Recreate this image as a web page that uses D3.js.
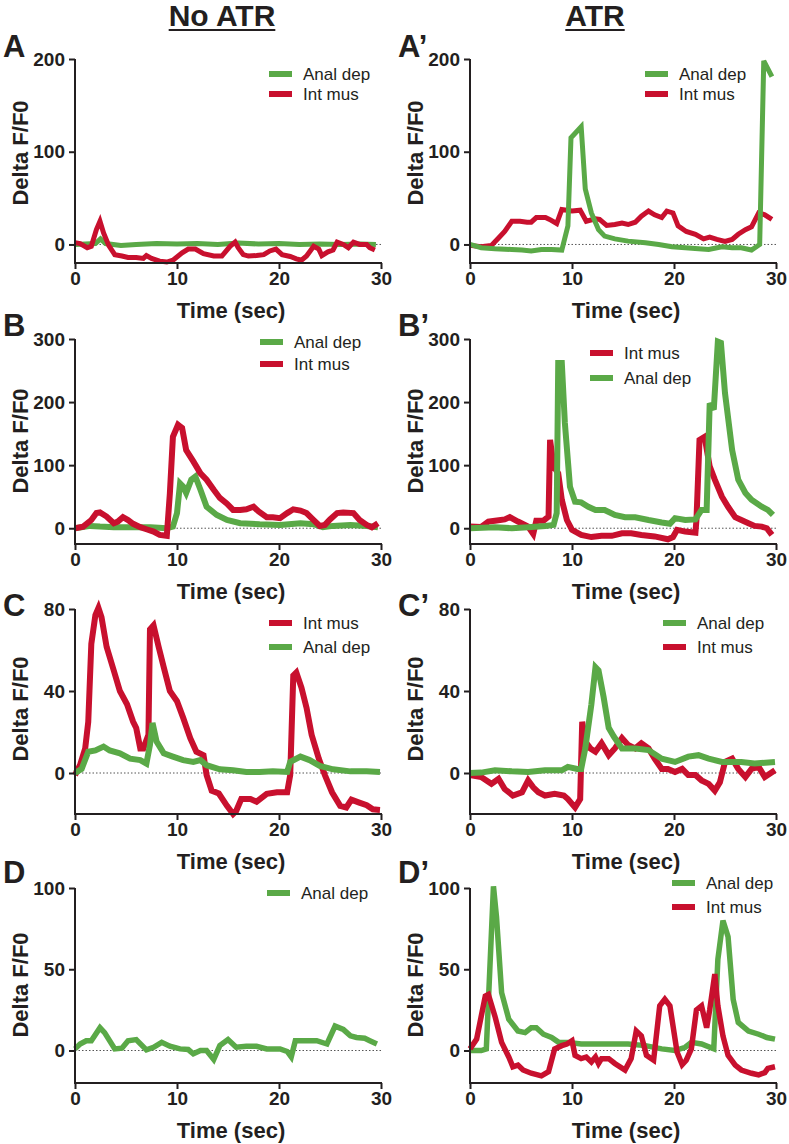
<!DOCTYPE html>
<html>
<head>
<meta charset="utf-8">
<script src="https://cdn.jsdelivr.net/npm/d3@7"></script>
<style>
  html, body { margin: 0; padding: 0; background: #fff; }
  svg { display: block; }
  text { font-family: "Liberation Sans", Arial, Helvetica, sans-serif; fill: #231f20; }
</style>
</head>
<body>
<svg id="chart" width="789" height="1144"></svg>
<script>
// ---------- data (time in sec, Delta F/F0) ----------
const xTicks = [0, 10, 20, 30];

const A_anal = [[0,0],[1,0.5],[2,1],[2.5,6],[3,1],[4.5,-1],[6,0],[8,1],[10,0.5],[12,1],[14,0],[16,1.5],[18,0.5],[20,1],[22,0],[24,0.5],[26,0],[28,0.5],[29.5,0]];
const A_int = [[0,2],[0.5,1],[1.2,-3.5],[1.6,-2],[2.1,16],[2.45,25],[2.8,12.5],[3.3,-1],[3.9,-11],[4.6,-12.5],[5.2,-14],[6,-14],[6.7,-15],[7,-12],[7.5,-15],[8.3,-18],[9,-19],[9.6,-17],[10.5,-9],[11.1,-5],[11.8,-5],[12.6,-10],[13.6,-12.5],[14.4,-12.5],[15.2,-2],[15.7,2.5],[16,-3.5],[16.5,-11],[17,-12.5],[17.8,-12],[18.5,-11],[19.1,-7],[19.7,-5],[20.3,-11],[21.1,-13],[21.7,-15.5],[22.2,-17],[22.7,-12.5],[23.4,-2],[23.9,-5],[24.2,-12],[24.8,-8],[25.3,-6],[25.7,2.5],[26.3,0],[26.8,-3.5],[27.3,2.5],[27.9,0],[28.6,0],[28.9,-3.5],[29.4,-6]];

const Ap_anal = [[0,0],[1.1,-3.5],[2.45,-4.7],[4.1,-5.4],[5.1,-6],[6,-7],[7,-5.4],[8,-5.4],[9,-6],[9.6,20],[9.9,115],[10.9,127],[11.3,60],[11.9,34],[12.6,16],[13.2,9],[14.2,6],[15.5,3.6],[17.2,1.8],[18.5,0],[19.8,-2.5],[21.1,-3.6],[22.4,-4.7],[23.4,-5.4],[24.7,-2.5],[25.7,-3.6],[26.6,-3.6],[27.6,-6],[28.4,0],[28.8,198],[29.6,181]];
const Ap_int = [[0,-1],[1.1,-2.5],[2.1,-1],[2.8,7],[3.4,14],[4.1,25],[4.9,25],[5.6,24],[6,24],[6.5,29],[7.4,29],[7.8,27],[8.5,22.6],[9,37.7],[10,36],[10.8,37],[11.4,25],[12.3,27.6],[12.7,27],[13.4,20.5],[14.2,21.5],[14.9,23],[15.5,21.5],[16.2,24],[16.8,30.5],[17.5,36],[18.1,32],[18.8,29],[19.3,36],[19.9,34],[20.4,20],[21.2,14],[22.1,11],[22.9,6],[23.5,8],[24.2,5.4],[25,3.2],[25.7,5.4],[26.3,11],[27,16],[27.6,19],[28.3,34],[28.9,32],[29.6,27]];

const B_anal = [[0,0],[1.5,3.7],[2.45,2.6],[3.8,1.6],[5.7,1.6],[7.4,1.6],[9,0],[9.6,2.6],[10,24],[10.3,71],[10.6,66],[10.9,56],[11.4,77],[11.8,82],[12.3,61],[12.9,34],[13.9,21],[14.9,13],[16.2,8],[18.1,6.3],[20.1,5.3],[22.1,8],[23.4,6.3],[24.3,1.6],[25.3,3.7],[27,5.3],[28.6,3.7],[29.7,1.6]];
const B_int = [[0,0],[0.8,2.6],[1.6,13],[2.1,24],[2.45,25],[3.1,18.5],[3.8,8],[4.2,10.6],[4.7,17.5],[5.2,13],[5.7,7],[6.4,1.6],[7,-1.6],[7.7,-5.3],[8.3,-10.6],[9,-12],[9.3,55],[9.6,145],[10.1,164],[10.5,159],[10.9,124],[11.6,106],[12.3,87],[12.9,77],[13.6,61],[14.2,48],[14.9,39],[15.5,29],[16.2,29],[16.8,30],[17.5,34],[18,26.5],[18.8,17.5],[19.4,17.5],[20.1,16],[20.8,24],[21.4,30],[22.1,28],[22.7,24],[23.4,13],[24,3.7],[24.5,5.3],[25,14],[25.7,24],[26.3,25],[27.3,24],[27.9,13],[28.6,5.3],[29.1,1.6],[29.7,8]];

const Bp_int = [[0,2.6],[1.1,2],[1.8,10.6],[2.45,12],[3.4,14],[3.9,17.5],[4.7,10.6],[5.7,2.6],[6.2,-9],[6.5,12],[7.2,12],[7.7,18.5],[7.85,140],[8.2,98],[8.65,87],[9,45],[9.5,13],[10,-2.6],[10.9,-10.6],[11.9,-14],[12.9,-12],[13.9,-12],[14.9,-8],[15.8,-8],[16.8,-10.6],[18.1,-13],[19.4,-17.5],[19.9,-14],[20.3,-2.6],[21.1,-5.3],[22.1,-7],[22.2,13],[22.5,140],[23,145],[23.5,98],[24,77],[24.7,50],[25.3,34],[26,17.5],[26.6,13],[27.3,8],[27.9,3.7],[28.6,2.6],[29.1,0],[29.6,-10.6]];
const Bp_anal = [[0,0],[2.45,1.6],[4.1,0],[5.7,1.6],[7.4,3.7],[8.2,5.3],[8.5,24],[8.65,262],[9,262],[9.3,167],[9.8,66],[10.3,42],[10.9,41],[11.6,34],[12.3,29],[13.2,29],[14.2,21],[15.2,17.5],[16.2,17.5],[17.5,13],[18.8,9],[19.6,7],[20.1,16],[21.1,13],[22.1,14],[22.7,29],[23.2,29],[23.5,198],[23.9,188],[24.3,296],[24.6,294],[25,214],[25.7,124],[26.3,77],[27,56],[27.6,45],[28.6,34],[29.2,29],[29.7,21]];

const C_int = [[0,-1],[0.5,4],[1,12],[1.3,25],[1.6,63],[2,77],[2.3,80.5],[2.6,76],[3.1,61.5],[3.8,50],[4.4,40],[5.1,33.5],[5.7,25],[6,22],[6.4,12],[6.7,12],[7.2,18.6],[7.35,70],[7.7,72],[8.2,61.5],[8.7,51.6],[9.3,40],[10,35],[10.6,27],[11.3,17],[11.9,10.4],[12.6,8.7],[12.9,-1],[13.4,-8.6],[14.1,-10],[14.9,-16],[15.5,-20],[15.8,-18.5],[16.3,-12.7],[17.2,-12.7],[17.8,-14],[18.8,-10.2],[19.8,-9.4],[20.8,-9.4],[21.1,-1],[21.4,47.5],[21.7,49],[22.2,41.7],[22.7,31.8],[23.2,18.6],[23.9,7],[24.5,-1],[25.2,-9.4],[26,-16],[26.6,-16.8],[27.1,-13],[27.8,-14.3],[28.6,-15.7],[29.2,-17.7],[29.9,-18]];
const C_anal = [[0,0],[0.65,2],[1.3,10.4],[2,11],[2.8,12.9],[3.4,11],[4.4,9.6],[5.4,7],[6.4,6.3],[7,4.6],[7.35,13.7],[7.6,24.4],[8,15.3],[8.7,9.6],[9.6,8],[10.6,6.3],[11.6,5.4],[12.3,6.3],[12.9,3.8],[14.2,1.8],[15.5,1.3],[16.8,0.5],[18.1,0.5],[19.4,0.8],[20.8,0.5],[21.1,5.4],[22.1,8],[23,6.3],[24,3.5],[25.3,1.8],[27,0.8],[28.6,0.8],[29.9,0.5]];

const Cp_anal = [[0,0],[1.1,0.2],[2.45,1.3],[4.1,0.8],[5.7,0.5],[7.35,1.3],[9,1.3],[9.6,3],[10.5,2],[10.9,2],[11.3,12],[11.9,33.5],[12.3,51.6],[12.6,50],[13.1,37],[13.6,22],[14.1,17.8],[14.9,12],[16.2,12],[17.5,11.2],[18.8,7],[20.1,5.4],[21.4,8],[22.4,8.7],[23.4,7],[24.7,5.4],[26.6,5.4],[27.9,4.6],[29.9,5.4]];
const Cp_int = [[0,-1],[1.1,-2],[2.1,-5.3],[2.8,-2.8],[3.4,-7.8],[4.2,-11],[5.1,-9.4],[5.7,-3.6],[6.2,-7],[6.7,-9.4],[7.35,-11],[8.3,-10.2],[9.2,-11],[9.6,-12.7],[10.3,-16.8],[10.8,-12.7],[11,25],[11.3,15.3],[11.8,12],[12.3,10.4],[12.9,14.5],[13.6,8.7],[14.2,12],[14.9,17],[15.5,13.7],[16.2,12],[16.8,14.5],[17.5,12],[18.1,7],[18.8,2],[19.4,2],[20.1,0.5],[20.8,2],[21.4,-1],[22.1,-1],[22.7,-3.6],[23.4,-5.3],[24,-8.6],[24.5,-4.5],[25,5.4],[25.7,7],[26.3,2],[27,-2],[27.6,2],[28.3,3],[28.9,-2],[29.9,1.3]];

const D_anal = [[0,1],[0.5,4],[1.1,6],[1.6,6],[2.45,14],[2.9,11],[3.9,1],[4.6,1.4],[5.2,6],[6,6.7],[7,0.4],[7.7,2],[8.5,5],[9.3,2.6],[10.3,1],[11.1,0.6],[11.6,-2],[12.3,0],[12.9,0],[13.6,-5.5],[14.2,3],[15,6.7],[15.8,2],[16.8,2.6],[17.8,2.6],[18.8,1],[20.1,1],[20.8,-0.6],[21.2,-4],[21.6,6],[22.7,6],[23.7,6],[24.7,4],[25.5,15],[26.3,13],[27,9],[27.6,8],[28.4,7.5],[28.9,6],[29.6,4]];

const Dp_anal = [[0,0],[1.1,0],[1.6,1],[2.3,101],[2.6,82],[3.1,35.6],[3.8,19.3],[4.7,12],[5.4,11],[6,14],[6.5,14],[7.2,10],[8,8],[8.7,5],[9.6,5],[10.9,4],[12.3,4],[13.9,4],[15.5,4],[17.2,3],[18.8,1],[20.1,0],[21.1,2],[21.7,5],[22.7,4],[23.9,1],[24.3,56],[24.8,80],[25.3,70],[25.8,31.5],[26.3,17.3],[27.3,12],[28.3,10],[29.1,8],[29.9,7]];
const Dp_int = [[0,1],[0.65,7],[1.5,33.5],[1.8,34.5],[2.45,21],[3.1,5],[3.8,-4],[4.2,-10],[4.7,-9],[5.2,-12],[6,-14],[7,-15.6],[7.7,-13],[8.3,1],[9,3],[9.5,4],[10,6],[10.3,-3],[10.9,-5],[11.4,-4],[11.9,-7],[12.3,-4],[12.6,-8],[12.9,-5],[13.6,-5],[14.2,-8],[15.2,-12],[15.8,-5],[16.3,12],[16.8,9],[17.3,-3],[18,-6],[18.6,27.5],[19.1,31.5],[19.6,27.5],[20.3,-1],[20.8,-8.7],[21.2,-6],[21.7,1],[22.2,25],[22.7,27.5],[23.2,14],[23.5,25],[24,47],[24.3,27.5],[24.8,9],[25.3,-3],[26,-9],[26.6,-12],[27.6,-14],[28.3,-15],[28.9,-13.6],[29.2,-11],[29.9,-10]];

// ---------- styles ----------
const GREEN = "#5aa947";
const RED = "#c8102e";
const INK = "#231f20";
const names = { anal: "Anal dep", int: "Int mus" };
const colors = { anal: GREEN, int: RED };

// ---------- layout ----------
const cols = [{ x0: 75, x1: 381, off: 0 }, { x0: 470, x1: 776, off: 395 }];
const rows = [
  { top: 59,  bottom: 263,  domain: [-20, 200], ticks: [0, 100, 200],      letterY: 57,  labelC: 153, sw: 5 },
  { top: 339, bottom: 544,  domain: [-25, 300], ticks: [0, 100, 200, 300], letterY: 336, labelC: 441, sw: 6 },
  { top: 609, bottom: 814,  domain: [-20, 80],  ticks: [0, 40, 80],        letterY: 616, labelC: 709, sw: 6 },
  { top: 888, bottom: 1083, domain: [-20, 100], ticks: [0, 50, 100],       letterY: 883, labelC: 985, sw: 5.5 }
];

const panels = [
  { r: 0, c: 0, letter: "A",  draw: [["anal", A_anal], ["int", A_int]],   legend: ["anal", "int"], lx: 269, ly: 74, lgap: 20 },
  { r: 0, c: 1, letter: "A\u2019", draw: [["int", Ap_int], ["anal", Ap_anal]], legend: ["anal", "int"], lx: 645, ly: 74, lgap: 20 },
  { r: 1, c: 0, letter: "B",  draw: [["anal", B_anal], ["int", B_int]],   legend: ["anal", "int"], lx: 260, ly: 342, lgap: 22 },
  { r: 1, c: 1, letter: "B\u2019", draw: [["int", Bp_int], ["anal", Bp_anal]], legend: ["int", "anal"], lx: 590, ly: 353, lgap: 25 },
  { r: 2, c: 0, letter: "C",  draw: [["int", C_int], ["anal", C_anal]],   legend: ["int", "anal"], lx: 269, ly: 623, lgap: 24 },
  { r: 2, c: 1, letter: "C\u2019", draw: [["int", Cp_int], ["anal", Cp_anal]], legend: ["anal", "int"], lx: 663, ly: 623, lgap: 24 },
  { r: 3, c: 0, letter: "D",  draw: [["anal", D_anal]],                  legend: ["anal"],        lx: 267, ly: 893, lgap: 24 },
  { r: 3, c: 1, letter: "D\u2019", draw: [["anal", Dp_anal], ["int", Dp_int]], legend: ["anal", "int"], lx: 672, ly: 883, lgap: 24 }
];

const svg = d3.select("#chart");
svg.append("rect").attr("width", 789).attr("height", 1144).attr("fill", "#fff");

// column titles
[["No ATR", 222], ["ATR", 595]].forEach(([t, cx]) => {
  const txt = svg.append("text").attr("x", cx).attr("y", 26).attr("text-anchor", "middle")
    .attr("font-size", 30).attr("font-weight", "bold").text(t);
  const w = txt.node().getComputedTextLength();
  svg.append("line").attr("x1", cx - w / 2).attr("x2", cx + w / 2)
    .attr("y1", 30).attr("y2", 30).attr("stroke", INK).attr("stroke-width", 2);
});

panels.forEach(p => {
  const row = rows[p.r], col = cols[p.c];
  const x = d3.scaleLinear().domain([0, 30]).range([col.x0, col.x1]);
  const y = d3.scaleLinear().domain(row.domain).range([row.bottom, row.top]);
  const g = svg.append("g");

  // panel letter
  g.append("text").attr("x", col.off + 3).attr("y", row.letterY)
    .attr("font-size", 31).attr("font-weight", "bold").text(p.letter);

  // y axis label
  g.append("text").attr("transform", `translate(${col.off + 28},${row.labelC}) rotate(-90)`)
    .attr("text-anchor", "middle").attr("font-size", 22).attr("font-weight", "bold").text("Delta F/F0");

  // zero dotted line
  g.append("line").attr("x1", x(0)).attr("x2", x(30)).attr("y1", y(0)).attr("y2", y(0))
    .attr("stroke", "#555").attr("stroke-width", 1).attr("stroke-dasharray", "1.5,2");

  // series
  const line = d3.line().x(d => x(d[0])).y(d => y(d[1]));
  p.draw.forEach(([key, data]) => {
    g.append("path").datum(data).attr("d", line).attr("fill", "none")
      .attr("stroke", colors[key]).attr("stroke-width", row.sw)
      .attr("stroke-linejoin", "miter").attr("stroke-miterlimit", 3);
  });

  // axes
  const yAxis = d3.axisLeft(y).tickValues(row.ticks).tickSize(6).tickPadding(4).tickFormat(d3.format("d"));
  const xAxis = d3.axisBottom(x).tickValues(xTicks).tickSize(6).tickPadding(3).tickFormat(d3.format("d"));
  const ya = g.append("g").attr("transform", `translate(${x(0)},0)`).call(yAxis);
  const xa = g.append("g").attr("transform", `translate(0,${row.bottom})`).call(xAxis);
  [ya, xa].forEach(a => {
    a.select(".domain").attr("stroke", INK).attr("stroke-width", 2)
      .attr("d", a === ya ? `M0,${row.bottom + 1}V${row.top}` : `M${x(0) - 1},0H${x(30) + 1}`);
    a.selectAll(".tick line").attr("stroke", INK).attr("stroke-width", 2);
    a.selectAll(".tick text").attr("fill", INK).attr("font-size", 19).attr("font-weight", "bold")
      .attr("font-family", "Liberation Sans, Arial, sans-serif");
  });

  // x axis title
  g.append("text").attr("x", (x(0) + x(30)) / 2 + 3).attr("y", row.bottom + 55)
    .attr("text-anchor", "middle").attr("font-size", 22).attr("font-weight", "bold").text("Time (sec)");

  // legend
  p.legend.forEach((key, i) => {
    const ly = p.ly + i * p.lgap;
    g.append("line").attr("x1", p.lx).attr("x2", p.lx + 23).attr("y1", ly).attr("y2", ly)
      .attr("stroke", colors[key]).attr("stroke-width", 6);
    g.append("text").attr("x", p.lx + 34).attr("y", ly + 6).attr("font-size", 17).text(names[key]);
  });
});
</script>
</body>
</html>
